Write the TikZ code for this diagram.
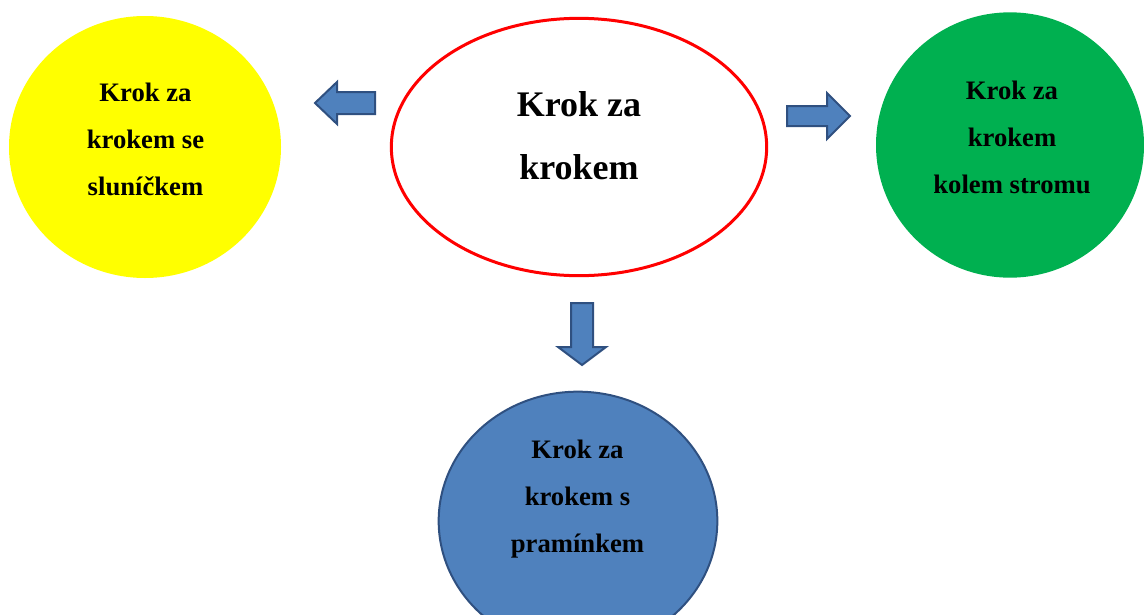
\documentclass[tikz,border=0pt]{standalone}
\usepackage{fontspec}
\setmainfont{Liberation Serif}
\usetikzlibrary{shapes.geometric, positioning}

\definecolor{sunyellow}{HTML}{FFFF00}
\definecolor{treegreen}{HTML}{00B050}
\definecolor{streamblue}{HTML}{4F81BD}
\definecolor{edgeblue}{HTML}{2F5080}

\begin{document}
\begin{tikzpicture}[x=0.75pt, y=-0.75pt,
    blob/.style={ellipse, inner sep=0pt},
    smalltext/.style={align=center, font=\fontsize{20}{35}\selectfont\bfseries},
    bigtext/.style={align=center, font=\fontsize{27}{47.25}\selectfont\bfseries},
    blockarrow/.style={draw=edgeblue, fill=streamblue, line width=1.5pt, line join=miter}]
        \useasboundingbox (0,0) rectangle (1144,614);

        % Centre (white ellipse, red border)
        \node[blob, draw=red, line width=2.25pt, fill=white, minimum width=281.5pt, minimum height=193pt] (middle) at (579,147) {};
        \node[bigtext] (middletext) at (579,136) {Krok za\\krokem};

        % Left circle (yellow)
        \node[blob, fill=sunyellow, minimum width=204pt, minimum height=196.5pt] (sun) at (145,147) {};
        \node[smalltext] (suntext) at (145.5,139.5) {Krok za\\krokem se\\sluníčkem};

        % Right circle (green)
        \node[blob, fill=treegreen, minimum width=201pt, minimum height=199pt] (tree) at (1010,145) {};
        \node[smalltext] (treetext) at (1012,137.5) {Krok za\\krokem\\kolem stromu};

        % Bottom circle (blue, runs off the lower edge)
        \node[blob, draw=edgeblue, line width=1.5pt, fill=streamblue, minimum width=209pt, minimum height=194pt] (stream) at (578,521) {};
        \node[smalltext] (streamtext) at (577.5,499) {Krok za\\krokem s\\pramínkem};

        % Arrow to the left
        \draw[blockarrow] (375,92) -- (337,92) -- (337,82) -- (315,103) -- (337,124) -- (337,114) -- (375,114) -- cycle;

        % Arrow to the right
        \draw[blockarrow] (787,106) -- (827,106) -- (827,93) -- (850,116) -- (827,139) -- (827,126) -- (787,126) -- cycle;

        % Arrow down
        \draw[blockarrow] (571,303) -- (571,347) -- (558,347) -- (582,365) -- (606,347) -- (593,347) -- (593,303) -- cycle;
        \end{tikzpicture}
\end{document}
